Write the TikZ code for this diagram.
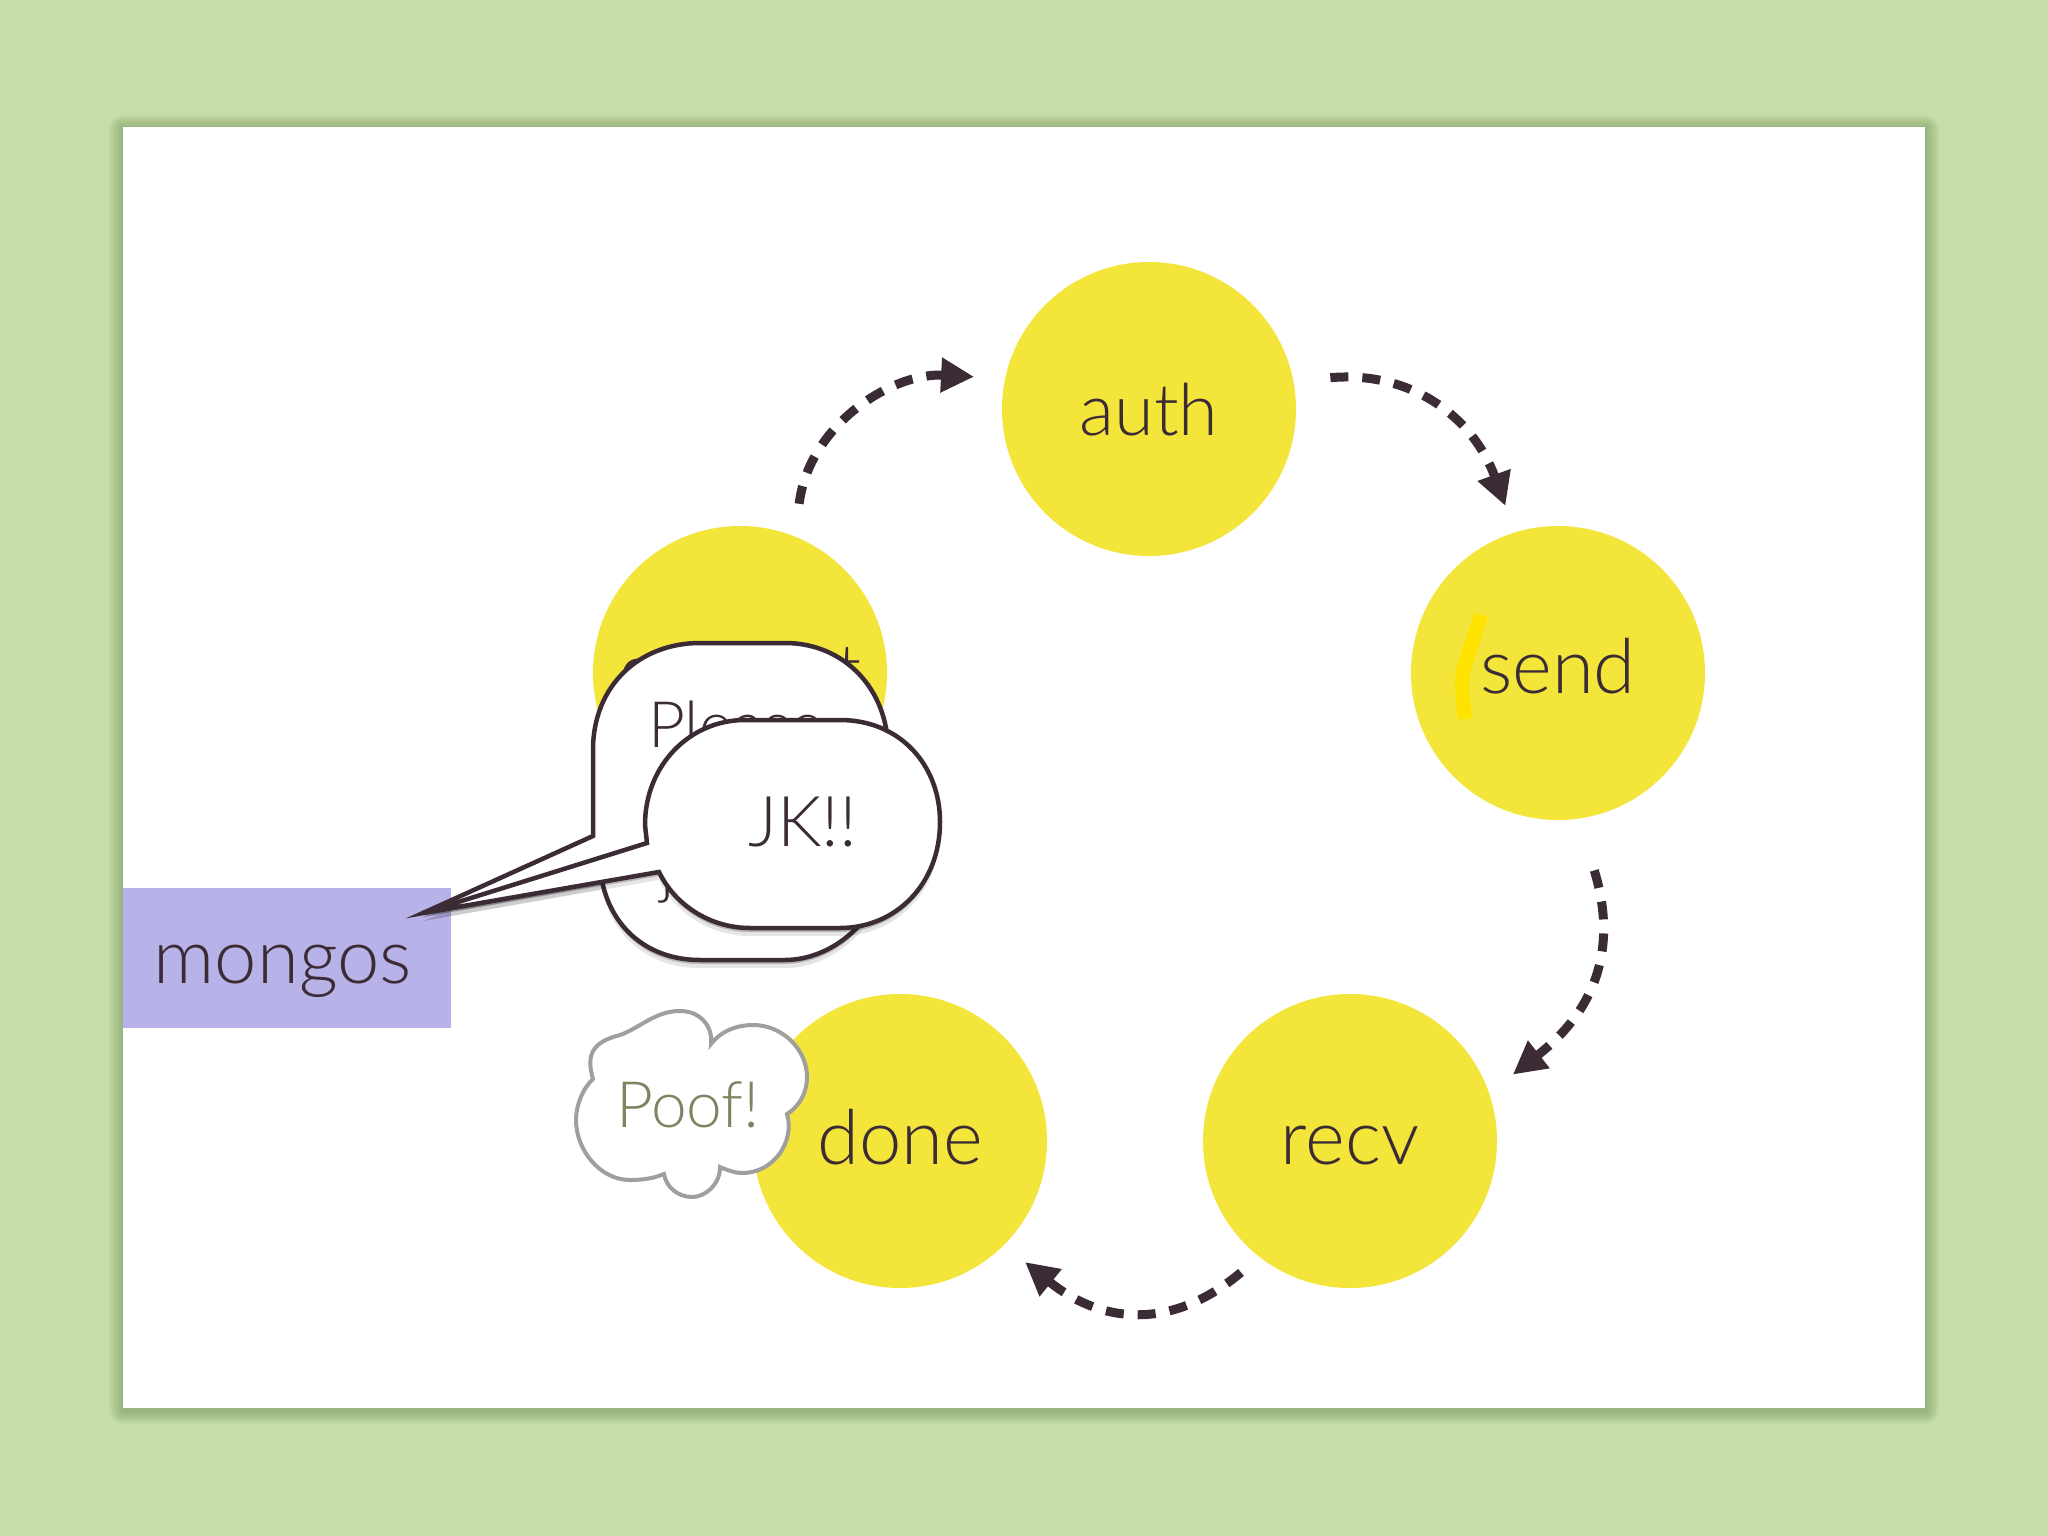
\documentclass[tikz,border=0pt]{standalone}
\usepackage{fontspec}
\setmainfont{Lato}[UprightFont=* Light]
\usetikzlibrary{positioning,arrows.meta,shadows}
\definecolor{pagegreen}{HTML}{C7DEA8}
\definecolor{edgegreen}{HTML}{5E7F4A}
\definecolor{stageyellow}{HTML}{F4E53A}
\definecolor{markyellow}{HTML}{FFE300}
\definecolor{hostblue}{HTML}{B7B3E8}
\definecolor{ink}{HTML}{3B2B35}
\definecolor{poofgray}{HTML}{9F9F9C}
\definecolor{poofolive}{HTML}{80835F}
\newcommand{\bigfont}{\fontsize{76}{90}\selectfont}
\newcommand{\midfont}{\fontsize{64}{76}\selectfont}

\begin{document}
\begin{tikzpicture}[x=1pt, y=1pt,
    stage/.style={shape=circle, fill=stageyellow, minimum size=294pt, inner sep=0pt,
      text=ink, font=\bigfont, text height=46pt, text depth=0pt},
    flow/.style={draw=ink, line width=9pt, dash pattern=on 18pt off 14pt,
      -{Triangle[length=33pt,width=33pt]}},
    hostbox/.style={shape=rectangle, fill=hostblue, minimum width=328pt, minimum height=140pt,
      inner sep=0pt, text=ink, font=\bigfont, text height=65pt, text depth=15pt},
    bubblebox/.style={draw=ink, fill=white, line width=4.5pt,
      general shadow={shadow yshift=-8pt, opacity=.1, fill=black},
      general shadow={shadow yshift=-4pt, opacity=.2, fill=black}},
    bubbletext/.style={text=ink, font=\midfont, inner sep=0pt, anchor=base west},
    puff/.style={draw=poofgray, fill=white, line width=4pt}
  ]
  \useasboundingbox (0,0) rectangle (2048,-1536);
  \fill[pagegreen] (0,0) rectangle (2048,-1536);
  % soft edge round the slide
  \foreach \spread in {14,12,...,2}
    \fill[edgegreen, opacity=.07, rounded corners=\spread pt]
      (123-\spread,-127+\spread-2) rectangle (1925+\spread,-1408-\spread-2);
  \fill[white] (123,-127) rectangle (1925,-1408);

  % the ring
  \node[stage, text height=42pt, font=\fontsize{70}{84}\selectfont] (connect) at (740,-673) {connect};
  \node[stage, text height=52pt, font=\fontsize{72}{86}\selectfont] (auth) at (1149,-409) {auth};
  \node[stage, text height=40pt] (send) at (1558,-673) {send};
  \node[stage] (recv) at (1350,-1141) {recv};
  \node[stage] (done) at (900,-1141) {done};

  \draw[flow, shorten <=33pt, shorten >=31pt] (connect.68.5) to[out=83, in=177, looseness=1.1] (auth.168.5);
  \draw[flow, shorten <=37pt, shorten >=28pt] (auth.11.3) to[out=5, in=110, looseness=1.15] (send.107.5);
  \draw[flow, shorten <=54pt, shorten >=30pt] (send.-82.6) to[out=-73, in=38, looseness=1.2] (recv.19.7);
  \draw[flow, shorten <=24pt, shorten >=27pt] (recv.232) to[out=220, in=-39, looseness=1.2] (done.-45.6);

  \draw[markyellow, line width=14pt, rounded corners=12pt] (1481,-615) -- (1461,-677) -- (1465,-719);
  \node[hostbox] (mongos) at (287,-958) {\kern-8pt mongos};

  % first bubble, then the one on top of it
  \draw[bubblebox] (423,-913) -- (593,-836) -- (593,-750)
    .. controls (593,-685) and (640,-643) .. (700,-643) -- (785,-643)
    .. controls (845,-643) and (888,-690) .. (888,-750) -- (888,-850)
    .. controls (888,-915) and (835,-960) .. (785,-960) -- (700,-960)
    .. controls (650,-960) and (612,-930) .. (602,-881) -- cycle;
  \node[bubbletext] (please) at (648,-747) {Please};
  \node[bubbletext] (rest) at (660,-891) {j};
  \draw[bubblebox] (423,-913) -- (647,-843) -- (645,-825)
    .. controls (645,-765) and (690,-720) .. (745,-720) -- (840,-720)
    .. controls (900,-720) and (940,-765) .. (940,-822)
    .. controls (940,-885) and (895,-928) .. (840,-928) -- (750,-928)
    .. controls (710,-928) and (675,-905) .. (659,-872) -- cycle;
  \node[bubbletext, anchor=base, font=\fontsize{70}{84}\selectfont] (jk) at (803,-846) {JK!!};

  % cloud, two bumps to a notch
  \draw[puff] (593,-1079) .. controls (586,-1055) and (592,-1042) .. (620,-1035)
    .. controls (640,-1028) and (655,-1011) .. (680,-1011)
    .. controls (700,-1011) and (713,-1026) .. (711,-1044)
    .. controls (722,-1030) and (738,-1025) .. (753,-1025)
    .. controls (783,-1025) and (807,-1050) .. (807,-1077)
    .. controls (807,-1095) and (797,-1108) .. (787,-1114)
    .. controls (795,-1140) and (775,-1173) .. (742,-1173)
    .. controls (735,-1173) and (727,-1170) .. (720,-1167)
    .. controls (720,-1185) and (705,-1197) .. (692,-1197)
    .. controls (678,-1197) and (666,-1187) .. (664,-1174)
    .. controls (650,-1180) and (635,-1180) .. (630,-1180)
    .. controls (600,-1180) and (576,-1150) .. (576,-1120)
    .. controls (576,-1105) and (583,-1088) .. (593,-1079) -- cycle;
  \node[bubbletext, anchor=base, text=poofolive] (poof) at (688,-1127) {Poof!};
\end{tikzpicture}
\end{document}
